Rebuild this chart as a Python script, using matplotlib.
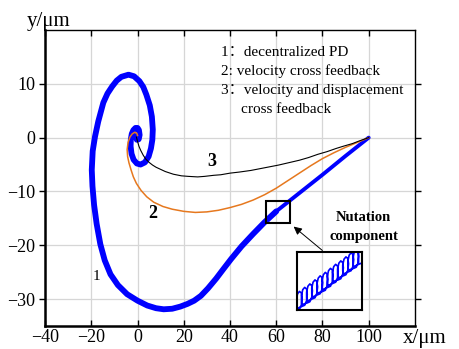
import matplotlib
matplotlib.use("Agg")
import matplotlib.pyplot as plt
from matplotlib.patches import Rectangle

plt.rcParams['font.family'] = ['Liberation Serif', 'Noto Sans CJK SC']

# curve 1: decentralized PD (blue spiral)
pd_x = [100, 90, 80, 70, 60, 55, 50, 45, 40.4, 37, 34, 30.5, 27.4, 24.5, 21.6, 18.5,
        15, 11.3, 8, 4.2, 0, -4.5, -8.5, -11.7, -14.2, -16.1, -17.7, -18.8, -19.5,
        -19.8, -19.4, -18.4, -17, -14.8, -13, -11, -9, -7, -3.9, -1.5, 0.8, 2.5, 3.8,
        5.3, 6.2, 6.6, 6.4, 5.8, 4.8, 3.2, 1.3, -0.3, -1.7, -2.6, -3, -2.9, -2.5, -1.8,
        -0.9, 0, 0.6, 0.9, 0.5, -0.3, -0.8]
pd_y = [0, -3.4, -6.9, -10.3, -13.7, -15.7, -17.9, -20.2, -22.6, -24.5, -26.2, -28.0,
        -29.4, -30.3, -30.9, -31.4, -31.8, -31.9, -31.7, -31.2, -30.3, -29.1, -27.4,
        -25.4, -22.8, -19.8, -16.0, -12.5, -9.0, -6.0, -2.5, 0.2, 3.0, 6.5, 8.2, 9.5,
        10.6, 11.3, 11.7, 11.4, 10.5, 9.4, 8.0, 6.0, 3.9, 1.5, -0.4, -2.0, -3.5, -4.6,
        -5.0, -4.8, -4.1, -3.0, -1.6, -0.3, 0.7, 1.4, 1.8, 1.8, 1.4, 0.5, -0.3, -0.4,
        0.3]

# curve 2: velocity cross feedback (orange)
vc_x = [100, 95, 90, 85, 80, 75, 70, 65, 60, 55, 50, 45, 40, 35, 30, 25, 20, 15, 11,
        7, 4, 1.5, -0.5, -1.8, -2.8, -3.7, -4.3, -4.5, -4.1, -3.3, -2.3, -1.2, -0.3, 0]
vc_y = [0, -0.9, -1.8, -2.8, -3.9, -5.2, -6.6, -8.0, -9.4, -10.6, -11.6, -12.4, -13.0,
        -13.5, -13.8, -13.9, -13.7, -13.3, -12.8, -12.0, -11.0, -9.8, -8.5, -7.3, -6.0,
        -4.7, -3.5, -2.2, -0.9, 0.1, 0.7, 1.0, 0.8, 0.4]

# curve 3: velocity and displacement cross feedback (black)
vd_x = [100, 96, 93, 89, 86, 82, 78, 74, 70, 65, 61, 55, 49, 44, 40, 36, 33, 29, 26,
        22, 19, 15.5, 12, 10, 8, 6.5, 5, 3.6, 2.5, 1.4, 0.6, 0, -0.5]
vd_y = [0, -0.6, -1.1, -1.6, -2.0, -2.6, -3.1, -3.7, -4.2, -4.7, -5.1, -5.6, -6.1, -6.4,
        -6.6, -6.9, -7.0, -7.2, -7.3, -7.2, -7.1, -6.8, -6.3, -5.9, -5.5, -5.1, -4.6,
        -4.0, -3.3, -2.4, -1.6, -0.7, 0.1]

# nutation loops seen in the zoomed inset (inset units 0..1)
loop_cx = [0.02, 0.10, 0.18, 0.26, 0.34, 0.42, 0.50, 0.58, 0.66, 0.74, 0.82, 0.90, 0.98]
loop_cy = [0.14, 0.21, 0.27, 0.34, 0.41, 0.47, 0.54, 0.61, 0.67, 0.74, 0.81, 0.87, 0.94]
loop_dx = [-0.025, 0.015, 0.045, 0.055, 0.045, 0.015, -0.015, -0.035, -0.035, -0.03]
loop_dy = [-0.15, -0.13, -0.05, 0.06, 0.15, 0.18, 0.14, 0.04, -0.06, -0.12]

legend_lines = ["1：decentralized PD", "2: velocity cross feedback",
                "3：velocity and displacement", "cross feedback"]

fig = plt.figure(figsize=(4.6, 3.49), dpi=100)
ax = fig.add_axes([0.098, 0.066, 0.804, 0.848])

ax.grid(True, color='#d6d6d6', lw=0.9)
ax.set_axisbelow(True)

ax.plot(pd_x[4:], pd_y[4:], color='#0000ff', lw=4.2, solid_capstyle='round',
        solid_joinstyle='round', zorder=3)
ax.plot(pd_x[:6], pd_y[:6], color='#0000ff', lw=2.8, solid_capstyle='round', zorder=3)
ax.plot(vc_x, vc_y, color='#e6781e', lw=1.1, zorder=4)
ax.plot(vd_x, vd_y, color='black', lw=0.8, zorder=5)

ax.set_xlim(-40, 120)
ax.set_ylim(-35, 20)
ax.set_xticks([-40, -20, 0, 20, 40, 60, 80, 100])
ax.set_yticks([-30, -20, -10, 0, 10])
ax.tick_params(labelsize=13, length=4, width=1)
ax.tick_params(right=True, top=True)
ax.tick_params(axis='y', pad=3, direction='out')
ax.tick_params(axis='x', pad=2, direction='in')
for side in ['left', 'bottom']:
    ax.spines[side].set_linewidth(1.8)
for side in ['top', 'right']:
    ax.spines[side].set_linewidth(1.0)

fig.text(27 / 460, 1 - 26 / 349, "y/μm", fontsize=15, ha='left', va='baseline')
fig.text(403 / 460, 1 - 343 / 349, "x/μm", fontsize=15, ha='left', va='baseline')

# legend text
ys = [15.9, 12.4, 8.7, 5.2]
xs = [36.1, 36.1, 36.1, 44.8]
for t, x, y in zip(legend_lines, xs, ys):
    ax.text(x, y, t, fontsize=11, ha='left', va='center', zorder=6)

ax.text(32.2, -4.4, "3", fontsize=13, fontweight='bold', ha='center', va='center')
ax.text(6.4, -14.1, "2", fontsize=13, fontweight='bold', ha='center', va='center')
ax.text(-17.8, -25.9, "1", fontsize=11, ha='center', va='center')
ax.text(97.8, -14.8, "Nutation", fontsize=10.5, fontweight='bold', ha='center', va='center')
ax.text(97.8, -18.3, "component", fontsize=10.5, fontweight='bold', ha='center', va='center')

# small box on the trajectory
ax.add_patch(Rectangle((55.7, -15.9), 10.4, 4.2, fill=False, lw=1.5,
                       edgecolor='black', zorder=6))
ax.annotate("", xy=(66.6, -16.2), xytext=(80.9, -21.3),
            arrowprops=dict(arrowstyle='-|>', color='black', lw=0.7,
                            mutation_scale=12), zorder=6)

# zoomed inset
ins = ax.inset_axes([69.1, -32.0, 27.9, 10.7], transform=ax.transData)
ins.set_facecolor('none')
ins.set_xlim(0, 1)
ins.set_ylim(0, 1)
ins.set_xticks([])
ins.set_yticks([])
for s in ins.spines.values():
    s.set_linewidth(1.5)
lx, ly = [], []
for cx, cy in zip(loop_cx, loop_cy):
    for dx, dy in zip(loop_dx, loop_dy):
        lx.append(cx + dx)
        ly.append(cy + dy)
ins.plot(lx, ly, color='#0000ff', lw=1.2)

fig.savefig("out.png", dpi=100)
